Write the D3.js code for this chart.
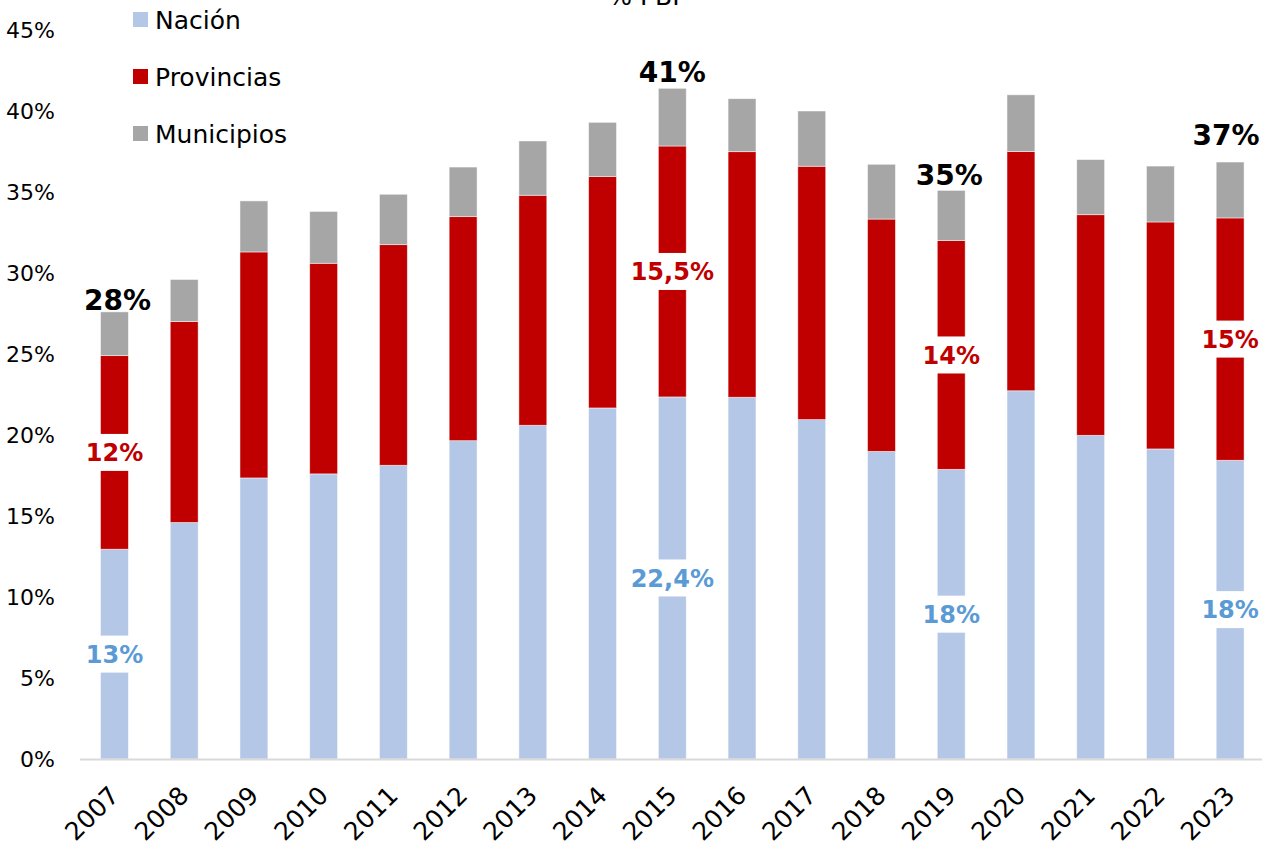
<!DOCTYPE html>
<html>
<head>
<meta charset="utf-8">
<script src="https://cdn.jsdelivr.net/npm/d3@7"></script>
<style>
  body { margin: 0; background: #fff; }
  svg { display: block; font-family: "DejaVu Sans", Verdana, sans-serif; }
</style>
</head>
<body>
<div id="chart"></div>
<script>
// Datos (% del PBI)
let years = ['2007', '2008', '2009', '2010', '2011', '2012', '2013', '2014', '2015',
             '2016', '2017', '2018', '2019', '2020', '2021', '2022', '2023'];
let nacion = [12.95, 14.6, 17.35, 17.6, 18.13, 19.65, 20.6, 21.67, 22.35,
              22.33, 20.95, 18.99, 17.88, 22.73, 19.98, 19.14, 18.44];
let provincias = [11.95, 12.4, 13.95, 13.0, 13.62, 13.83, 14.2, 14.28, 15.49,
                  15.16, 15.64, 14.34, 14.12, 14.77, 13.62, 14.01, 14.96];
let municipios = [2.7, 2.6, 3.15, 3.2, 3.11, 3.06, 3.35, 3.35, 3.56,
                  3.27, 3.41, 3.38, 3.1, 3.5, 3.4, 3.45, 3.45];
let seriesNames = ['Nación', 'Provincias', 'Municipios'];
let yTicks = [0, 5, 10, 15, 20, 25, 30, 35, 40, 45];

// Años con etiquetas de datos y decimales usados
let labelYears = ['2007', '2015', '2019', '2023'];
let labelDecimals = { '2007': 0, '2015': 1, '2019': 0, '2023': 0 };
let totalDecimals = 0;

let colors = { 'Nación': '#b4c7e7', 'Provincias': '#c00000', 'Municipios': '#a6a6a6' };
let labelColors = { 'Nación': '#5b9bd5', 'Provincias': '#c00000' };
// Ajuste de las etiquetas de total (como en el original)
let totalNudge = { '2007': [3, -2], '2015': [0, -6], '2019': [-2, -5], '2023': [-4, -17] };

let width = 1262, height = 850;

let svg = d3.select('#chart').append('svg')
    .attr('width', width).attr('height', height);

let x = d3.scaleBand().domain(years).range([79.6, 1265]).paddingInner(0.6).paddingOuter(0.3);
let y = d3.scaleLinear().domain([0, 45]).range([759, 30]);

let locale = d3.formatLocale({ decimal: ',', thousands: '.', grouping: [3], currency: ['$', ''] });
let fmt = (v, d) => locale.format('.' + d + 'f')(v) + '%';

// Tabla para d3.stack
let table = years.map((yr, i) => ({
    year: yr, 'Nación': nacion[i], 'Provincias': provincias[i], 'Municipios': municipios[i]
}));
let stacked = d3.stack().keys(seriesNames)(table);

// Título (cortado arriba, como en la imagen)
svg.append('text')
    .attr('x', 644).attr('y', 5)
    .attr('text-anchor', 'middle')
    .style('font-size', '25px')
    .text('% PBI');

// Barras apiladas
let layers = svg.append('g').selectAll('g')
    .data(stacked)
    .enter().append('g')
    .attr('fill', d => colors[d.key]);

layers.selectAll('rect')
    .data(d => d)
    .enter().append('rect')
    .attr('x', d => x(d.data.year))
    .attr('width', x.bandwidth())
    .attr('y', d => y(d[1]))
    .attr('height', d => y(d[0]) - y(d[1]))
    .attr('stroke', '#ffffff')
    .attr('stroke-opacity', 0.6)
    .attr('stroke-width', 0.8);

// Línea del eje X
svg.append('line')
    .attr('x1', 80).attr('x2', 1262)
    .attr('y1', y(0) + 0.5).attr('y2', y(0) + 0.5)
    .attr('stroke', '#d9d9d9').attr('stroke-width', 2);

// Etiquetas del eje Y
svg.append('g').selectAll('text')
    .data(yTicks)
    .enter().append('text')
    .attr('x', 55)
    .attr('y', d => y(d))
    .attr('dy', '0.36em')
    .attr('text-anchor', 'end')
    .style('font-size', '22px')
    .text(d => d + '%');

// Etiquetas del eje X (rotadas)
svg.append('g').selectAll('text')
    .data(years)
    .enter().append('text')
    .attr('transform', d => `translate(${x(d) + x.bandwidth() / 2 + 6},797) rotate(-45)`)
    .attr('text-anchor', 'end')
    .style('font-size', '25px')
    .text(d => d);

// Etiquetas de segmento con fondo blanco
let segLabels = [];
stacked.slice(0, 2).forEach(layer => {
    layer.forEach(d => {
        if (labelYears.includes(d.data.year)) {
            segLabels.push({
                key: layer.key,
                year: d.data.year,
                cy: y((d[0] + d[1]) / 2),
                text: fmt(d[1] - d[0], labelDecimals[d.data.year])
            });
        }
    });
});

let segG = svg.append('g').selectAll('g')
    .data(segLabels)
    .enter().append('g')
    .attr('transform', d => `translate(${x(d.year) + x.bandwidth() / 2},${d.cy})`);

segG.append('text')
    .attr('text-anchor', 'middle')
    .attr('dy', '0.36em')
    .style('font-size', '24px')
    .style('font-weight', 'bold')
    .attr('fill', d => labelColors[d.key])
    .text(d => d.text)
    .each(function() {
        let box = this.getBBox();
        d3.select(this.parentNode).insert('rect', 'text')
            .attr('x', box.x - 2)
            .attr('y', -18.5)
            .attr('width', box.width + 4)
            .attr('height', 37)
            .attr('fill', '#ffffff');
    });

// Etiquetas de total
let topLayer = stacked[stacked.length - 1];
svg.append('g').selectAll('text')
    .data(topLayer.filter(d => labelYears.includes(d.data.year)))
    .enter().append('text')
    .attr('x', d => x(d.data.year) + x.bandwidth() / 2 + totalNudge[d.data.year][0])
    .attr('y', d => y(d[1]) + totalNudge[d.data.year][1])
    .attr('text-anchor', 'middle')
    .style('font-size', '28px')
    .style('font-weight', 'bold')
    .text(d => fmt(d[1], totalDecimals));

// Leyenda
let legend = svg.append('g').selectAll('g')
    .data(seriesNames)
    .enter().append('g')
    .attr('transform', (d, i) => `translate(133,${20 + i * 57})`);

legend.append('rect')
    .attr('x', 0).attr('y', -8)
    .attr('width', 15).attr('height', 15)
    .attr('fill', d => colors[d]);

legend.append('text')
    .attr('x', 22)
    .attr('dy', '0.36em')
    .style('font-size', '25px')
    .text(d => d);
</script>
</body>
</html>
